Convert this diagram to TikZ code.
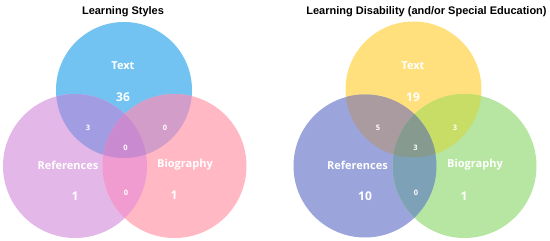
\documentclass[tikz,border=0pt]{standalone}
\usepackage{fontspec}
\setmainfont{Liberation Sans}
\newfontfamily\lblfont{Open Sans}
\definecolor{lT}{HTML}{72C3F2}
\definecolor{lR}{HTML}{E4B7E9}
\definecolor{lB}{HTML}{FFB8C4}
\definecolor{lTR}{HTML}{A29DE3}
\definecolor{lTB}{HTML}{D29DC8}
\definecolor{lRB}{HTML}{F19CD0}
\definecolor{lTRB}{HTML}{C98AD0}
\definecolor{rT}{HTML}{FFE07D}
\definecolor{rR}{HTML}{9BA5DC}
\definecolor{rB}{HTML}{B7E6A2}
\definecolor{rTR}{HTML}{A99BA0}
\definecolor{rTB}{HTML}{C8DD66}
\definecolor{rRB}{HTML}{7DA2B8}
\definecolor{rTRB}{HTML}{869A8F}
\tikzset{
  title/.style={font=\bfseries\fontsize{11}{13}\selectfont, text=black, inner sep=0pt},
  namelbl/.style={font=\lblfont\bfseries\fontsize{11}{13}\selectfont, text=white, inner sep=0pt},
  biglbl/.style={font=\lblfont\bfseries\fontsize{12}{14}\selectfont, text=white, inner sep=0pt},
  smalllbl/.style={font=\lblfont\bfseries\fontsize{7.5}{9}\selectfont, text=white, inner sep=0pt}
}
\begin{document}
\begin{tikzpicture}[x=1pt,y=-1pt]
\useasboundingbox (0,0) rectangle (550,241);
% ---------- Left diagram ----------
\coordinate (T1) at (124,90);
\coordinate (R1) at (75,166);
\coordinate (B1) at (174.5,166);
\fill[lT] (T1) circle (68pt);
\fill[lR] (R1) circle (72pt);
\fill[lB] (B1) circle (72pt);
\begin{scope}\clip (T1) circle (68pt); \fill[lTR] (R1) circle (72pt); \end{scope}
\begin{scope}\clip (T1) circle (68pt); \fill[lTB] (B1) circle (72pt); \end{scope}
\begin{scope}\clip (R1) circle (72pt); \fill[lRB] (B1) circle (72pt); \end{scope}
\begin{scope}\clip (T1) circle (68pt); \clip (R1) circle (72pt); \fill[lTRB] (B1) circle (72pt); \end{scope}
\node[title] (t1) at (123,12) {Learning Styles};
\node[namelbl] (lt) at (123,66) {Text};
\node[biglbl] (lt36) at (123,97) {36};
\node[smalllbl] (ltr) at (88,128) {3};
\node[smalllbl] (ltb) at (165,128) {0};
\node[smalllbl] (ltrb) at (125.5,148) {0};
\node[namelbl] (lr) at (68,165) {References};
\node[namelbl] (lb) at (185,165) {Biography};
\node[biglbl] (lr1) at (75,196) {1};
\node[smalllbl] (lrb) at (126,193) {0};
\node[biglbl] (lb1) at (174,195.5) {1};
% ---------- Right diagram ----------
\coordinate (T2) at (413.5,89.5);
\coordinate (R2) at (365,166);
\coordinate (B2) at (464.5,166);
\fill[rT] (T2) circle (68pt);
\fill[rR] (R2) circle (71.5pt);
\fill[rB] (B2) circle (72pt);
\begin{scope}\clip (T2) circle (68pt); \fill[rTR] (R2) circle (71.5pt); \end{scope}
\begin{scope}\clip (T2) circle (68pt); \fill[rTB] (B2) circle (72pt); \end{scope}
\begin{scope}\clip (R2) circle (71.5pt); \fill[rRB] (B2) circle (72pt); \end{scope}
\begin{scope}\clip (T2) circle (68pt); \clip (R2) circle (71.5pt); \fill[rTRB] (B2) circle (72pt); \end{scope}
\node[title] (t2) at (426.5,12) {Learning Disability (and/or Special Education)};
\node[namelbl] (rt) at (413,66) {Text};
\node[biglbl] (rt19) at (413,97) {19};
\node[smalllbl] (rtr) at (378,128) {5};
\node[smalllbl] (rtb) at (455,128) {3};
\node[smalllbl] (rtrb) at (415.5,148) {3};
\node[namelbl] (rr) at (357.5,165) {References};
\node[namelbl] (rb) at (475,165) {Biography};
\node[biglbl] (rr10) at (365,196) {10};
\node[smalllbl] (rrb) at (416,193) {0};
\node[biglbl] (rb1) at (464,196) {1};
\end{tikzpicture}
\end{document}
